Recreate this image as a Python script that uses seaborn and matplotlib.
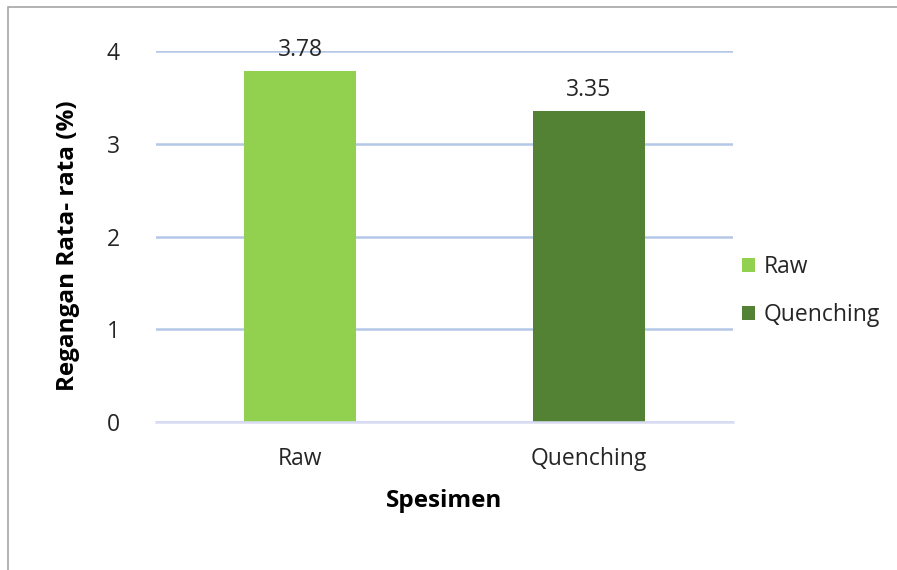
import matplotlib
matplotlib.use("Agg")
import matplotlib.pyplot as plt
import seaborn as sns
import pandas as pd
from matplotlib.patches import Patch, Rectangle

categories = ["Raw", "Quenching"]
values = [3.78, 3.35]
label_texts = ["3.78", "3.35"]
colors = ["#92D050", "#548235"]
yticks = [0, 1, 2, 3, 4]

sns.set_theme(style="white")
plt.rcParams['font.family'] = ['Open Sans', 'DejaVu Sans']

df = pd.DataFrame({"Spesimen": categories, "Regangan": values})

fig = plt.figure(figsize=(8.97, 5.70), dpi=100)
ax = fig.add_axes([156/897, 1-422/570, (733-156)/897, (422-51)/570])

sns.barplot(data=df, x="Spesimen", y="Regangan", hue="Spesimen",
            palette=colors, width=0.388, ax=ax, legend=False, saturation=1,
            linewidth=0)

FS = 16.5
ax.set_ylim(0, 4)
ax.set_xlim(-0.5, 1.5)
ax.set_yticks(yticks)
ax.yaxis.grid(True, color="#B4C7E7", linewidth=1.8)
ax.set_axisbelow(True)
for s in ["top", "right", "left"]:
    ax.spines[s].set_visible(False)
ax.spines["bottom"].set_color("#D9DCF3")
ax.spines["bottom"].set_linewidth(1.8)
ax.tick_params(axis="both", length=0, labelsize=FS, colors="#262626")
ax.tick_params(axis="y", pad=26)
ax.tick_params(axis="x", pad=18)

for i, (v, t) in enumerate(zip(values, label_texts)):
    ax.text(i, v + 0.1, t, ha="center", va="bottom", fontsize=FS, color="#262626")

ax.set_xlabel("Spesimen", fontsize=17.5, fontweight="bold", color="#000000", labelpad=13)
ax.set_ylabel("Regangan Rata- rata (%)", fontsize=17.5, fontweight="bold", color="#000000")
ax.yaxis.set_label_coords((80 - 156) / 577, (422 - 246) / 371)

handles = [Patch(facecolor=c, edgecolor="none", label=l) for c, l in zip(colors, categories)]
fig.legend(handles=handles, loc="center left", bbox_to_anchor=(721/897, 1-291/570),
           frameon=False, fontsize=FS, handlelength=0.6, handleheight=0.6,
           handletextpad=0.35, labelspacing=1.05, labelcolor="#262626")

fig.patches.append(Rectangle((8/897, -0.1), 1.1, 1.1 - 7/570, transform=fig.transFigure,
                             fill=False, edgecolor="#A6A6A6", linewidth=1.2))

fig.savefig("out.png", dpi=100)
